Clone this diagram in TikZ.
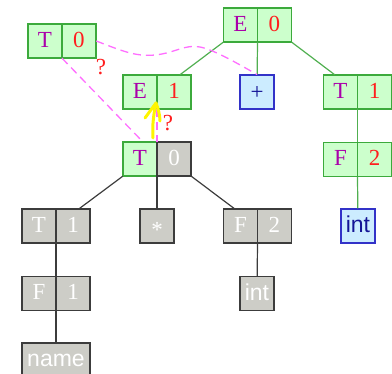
\documentclass[tikz,border=0pt]{standalone}
\usepackage{fontspec}
\setmainfont{Liberation Serif}
\setsansfont{Liberation Sans}
\definecolor{gfill}{RGB}{204,255,204}
\definecolor{gdraw}{RGB}{60,170,60}
\definecolor{gline}{RGB}{80,175,80}
\definecolor{kfill}{RGB}{205,205,199}
\definecolor{kdraw}{RGB}{60,60,60}
\definecolor{bfill}{RGB}{204,236,255}
\definecolor{bdraw}{RGB}{50,50,200}
\definecolor{btext}{RGB}{20,20,150}
\definecolor{ntpurple}{RGB}{170,0,170}
\definecolor{numred}{RGB}{255,30,30}
\definecolor{dashmag}{RGB}{255,110,255}
\definecolor{hiyellow}{RGB}{255,245,0}
\newcommand{\recnode}[9]{%
  \node[recbox] (#1) at (#2,#3) {};
  \node[#4] (#1-l) at ([xshift=-17pt]#1.center) {};
  \node[#5] (#1-r) at ([xshift=17pt]#1.center) {};
  \node[#6] (#1-lt) at ([xshift=-17pt,yshift=-6.5pt]#1.center) {#7};
  \node[#8] (#1-rt) at ([xshift=17pt,yshift=-6.5pt]#1.center) {#9};
}
\newcommand{\onenode}[7]{%
  \node[#4] (#1) at (#2,#3) {};
  \node[#5] (#1-t) at ([yshift=-#7pt]#1.center) {#6};
}
\begin{document}
\begin{tikzpicture}[x=1pt,y=-1pt,
  recbox/.style={rectangle, inner sep=0pt, minimum width=68pt, minimum height=34pt},
  cellbase/.style={rectangle, inner sep=0pt, line width=1.1pt, minimum width=34pt, minimum height=34pt},
  cellg/.style={cellbase, draw=gdraw, fill=gfill},
  cellk/.style={cellbase, draw=kdraw, fill=kfill},
  cellb/.style={cellbase, draw=bdraw, fill=bfill},
  cellkw/.style={cellk, minimum width=68pt},
  txt/.style={anchor=base, inner sep=0pt, font=\fontsize{23}{27}\selectfont},
  ntxt/.style={txt, text=ntpurple},
  numtxt/.style={txt, text=numred},
  wtxt/.style={txt, text=white},
  stxtb/.style={txt, font=\sffamily\fontsize{23}{27}\selectfont, text=btext},
  stxtw/.style={txt, font=\sffamily\fontsize{23}{27}\selectfont, text=white},
  symb/.style={txt, text=btext},
  gedge/.style={draw=gline, line width=1.2pt},
  kedge/.style={draw=kdraw, line width=1.2pt},
  dedge/.style={draw=dashmag, line width=1.3pt, dash pattern=on 8pt off 5pt},
  qmark/.style={txt, text=numred},
  hilite/.style={draw=hiyellow, line width=3pt, line cap=round, line join=round}
]
\useasboundingbox (0,0) rectangle (392,374);
% green tree
\recnode{T0a}{62}{41}{cellg}{cellg}{ntxt}{T}{numtxt}{0}
\recnode{E0}{257.5}{25}{cellg}{cellg}{ntxt}{E}{numtxt}{0}
\recnode{E1}{157}{92}{cellg}{cellg}{ntxt}{E}{numtxt}{1}
\recnode{T1r}{357.5}{92}{cellg}{cellg}{ntxt}{T}{numtxt}{1}
\recnode{F2r}{357.5}{159.5}{cellg}{cellg}{ntxt}{F}{numtxt}{2}
\onenode{Plus}{257}{92}{cellb}{symb}{+}{8}
\onenode{intr}{358}{226}{cellb}{stxtb}{int}{7}
% grey tree
\recnode{T0b}{157}{159}{cellg}{cellk}{ntxt}{T}{wtxt}{0}
\recnode{T1l}{56}{226}{cellk}{cellk}{wtxt}{T}{wtxt}{1}
\recnode{F2m}{257.5}{226}{cellk}{cellk}{wtxt}{F}{wtxt}{2}
\recnode{F1}{56}{293.5}{cellk}{cellk}{wtxt}{F}{wtxt}{1}
\onenode{Star}{157}{226}{cellk}{wtxt}{*}{12}
\onenode{intm}{257}{293.5}{cellk}{stxtw}{int}{7}
\onenode{name}{56}{360}{cellkw}{stxtw}{name}{7}
% edges
\path[gedge] (E0.south west) -- (E1);
\path[gedge] (E0.south) -- (Plus);
\path[gedge] (E0.south east) -- (T1r);
\path[gedge] (T1r.south) -- (F2r);
\path[gedge] (F2r.south) -- (intr);
\path[kedge] (T0b.south west) -- (T1l);
\path[kedge] (T0b.south) -- (Star);
\path[kedge] (T0b.south east) -- (F2m);
\path[kedge] (T1l.south) -- (F1);
\path[kedge] (F1.south) -- (name);
\path[kedge] (F2m.south) -- (intm);
% dashed links
\path[dedge] (T0a.east) .. controls (120,50) and (135,57) .. (155,55)
  .. controls (175,53) and (185,44) .. (200,47)
  .. controls (215,50) and (240,65) .. (Plus.north);
\path[dedge] (T0a.south) -- ([xshift=20pt]T0b.north west);
\path[dedge] (E1.south) -- (T0b.north);
\node[qmark] (q1) at (101,75) {?};
\node[qmark] (q2) at (168,131) {?};
% yellow hand-drawn arrow
\coordinate (ytip) at (156,103);
\path[hilite] (153,138) .. controls (152,125) and (154,112) .. (ytip);
\path[hilite] (145,118) -- (ytip) .. controls (158,108) and (160,115) .. (160,121);
\end{tikzpicture}
\end{document}
